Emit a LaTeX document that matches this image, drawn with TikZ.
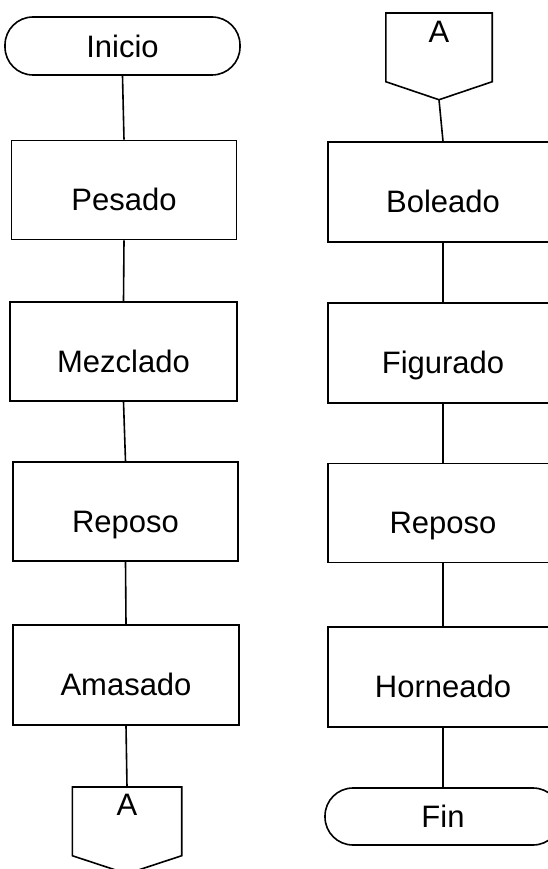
\documentclass[tikz,border=0pt]{standalone}
\usepackage{fontspec}
\setmainfont{Liberation Sans}
\begin{document}
\begin{tikzpicture}[x=1pt,y=-1pt,
  every node/.style={font=\fontsize{31}{36}\selectfont},
  proc/.style={draw,line width=1.6pt,rectangle,inner sep=0pt,minimum height=99pt,text height=43pt,text depth=2pt},
  term/.style={draw,line width=1.6pt,rectangle,rounded corners=28pt,inner sep=0pt},
  offpage/.style={rectangle,inner xsep=0pt,minimum width=106pt},
  link/.style={line width=1.6pt}]
\useasboundingbox (0,0) rectangle (548,869);
\clip (0,0) rectangle (548,869);
% left column
\node[term,minimum width=235pt,minimum height=58pt] (ini) at (122.5,46) {Inicio};
\node[proc,minimum width=225pt] (pes) at (124,190) {Pesado};
\node[proc,minimum width=227pt] (mez) at (123.5,351.5) {Mezclado};
\node[proc,minimum width=225pt] (rep1) at (125.5,511.5) {Reposo};
\node[proc,minimum width=226pt,minimum height=100pt] (ama) at (126,675) {Amasado};
\node[offpage,anchor=north,inner ysep=7pt,text depth=33pt,minimum width=109pt] (A1) at (127,787) {A};
\draw[line width=1.6pt,line join=miter] (A1.north west) -- (A1.north east) -- (A1.south east) -- ([yshift=-18pt]A1.south) -- (A1.south west) -- cycle;
% right column
\node[offpage,anchor=north,inner ysep=8pt,text depth=31pt] (A2) at (439,13) {A};
\draw[line width=1.6pt,line join=miter] (A2.north west) -- (A2.north east) -- (A2.south east) -- ([yshift=-18pt]A2.south) -- (A2.south west) -- cycle;
\coordinate (A2tip) at ([yshift=-18pt]A2.south);
\node[proc,minimum width=230pt,minimum height=100pt] (bol) at (443,192) {Boleado};
\node[proc,minimum width=230pt,minimum height=100pt] (fig) at (443,353) {Figurado};
\node[proc,minimum width=230pt] (rep2) at (443,513) {Reposo};
\node[proc,minimum width=230pt,minimum height=100pt] (hor) at (443,677) {Horneado};
\node[term,minimum width=236pt,minimum height=57pt] (fin) at (443,816.5) {Fin};
% connectors
\draw[link] (ini.south) -- (pes.north);
\draw[link] (pes.south) -- (mez.north);
\draw[link] (mez.south) -- (rep1.north);
\draw[link] (rep1.south) -- (ama.north);
\draw[link] (ama.south) -- (A1.north);
\draw[link] (A2tip) -- (bol.north);
\draw[link] (bol.south) -- (fig.north);
\draw[link] (fig.south) -- (rep2.north);
\draw[link] (rep2.south) -- (hor.north);
\draw[link] (hor.south) -- (fin.north);
\end{tikzpicture}
\end{document}
